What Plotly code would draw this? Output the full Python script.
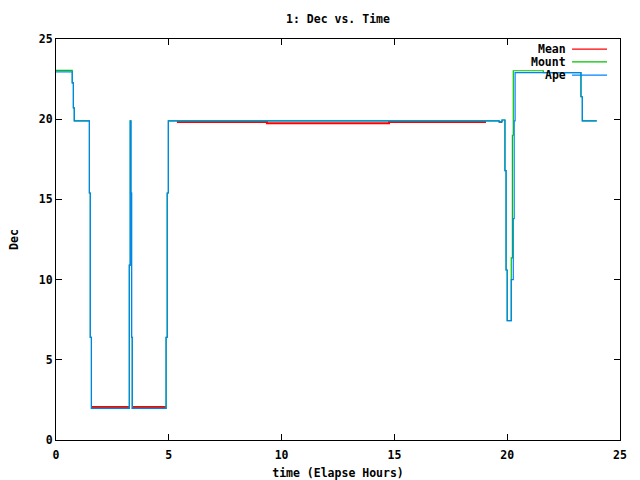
import plotly.graph_objects as go

# ---- data ----
ape_t = [0, 0.72, 0.77, 0.81, 1.48, 1.52, 1.57, 3.25, 3.29, 3.32, 3.35, 3.38,
         4.88, 4.93, 4.98, 19.64, 19.77, 19.90, 19.95, 20.00, 20.18, 20.27,
         20.31, 20.35, 23.27, 23.33, 23.97]
ape_y = [22.95, 22.26, 20.7, 19.89, 15.4, 6.4, 1.97, 10.9, 19.89, 15.4, 6.4, 1.97,
         6.4, 15.4, 19.89, 19.83, 19.95, 16.8, 10.6, 7.44, 10.0, 13.8,
         19.89, 22.9, 21.4, 19.89, 19.89]

mount_t = [0, 0.72, 0.77, 0.81, 1.48, 1.52, 1.57, 3.25, 3.29, 3.32, 3.35, 3.38,
           4.88, 4.93, 4.98, 19.64, 19.77, 19.90, 19.95, 20.00, 20.18, 20.23,
           20.27, 21.6, 23.27, 23.33, 23.97]
mount_y = [23.05, 22.26, 20.7, 19.89, 15.4, 6.4, 1.97, 10.9, 19.89, 15.4, 6.4, 1.97,
           6.4, 15.4, 19.89, 19.83, 19.95, 16.8, 10.6, 7.44, 11.35, 19.0,
           23.02, 22.9, 21.4, 19.89, 19.89]

mean_t = [1.58, 3.25, 3.25, 3.40, 4.88, 4.88, 5.36, 9.35, 14.76, 19.06, 19.06, 19.64, 19.77]
mean_y = [2.06, 2.06, None, 2.06, 2.06, None, 19.82, 19.74, 19.82, 19.82, None, 19.83, 19.83]

series_names = ["Mean", "Mount", "Ape"]
series_colors = ["#ff0000", "#00c000", "#0080ff"]

x_ticks = [0, 5, 10, 15, 20, 25]
y_ticks = [0, 5, 10, 15, 20, 25]

FONT = "DejaVu Sans Mono"

fig = go.Figure()
fig.add_trace(go.Scatter(x=mean_t, y=mean_y, mode="lines", name=series_names[0],
                         line=dict(color=series_colors[0], width=2, shape="hv"),
                         connectgaps=False))
fig.add_trace(go.Scatter(x=mount_t, y=mount_y, mode="lines", name=series_names[1],
                         line=dict(color=series_colors[1], width=1.2, shape="hv")))
fig.add_trace(go.Scatter(x=ape_t, y=ape_y, mode="lines", name=series_names[2],
                         line=dict(color=series_colors[2], width=1.2, shape="hv")))

# custom gnuplot-like legend (text right, sample line to the right)
leg_y = [0.975, 0.943, 0.910]
for name, col, ly in zip(series_names, series_colors, leg_y):
    fig.add_annotation(x=0.907, y=ly, xref="paper", yref="paper", text=name,
                       showarrow=False, xanchor="right", yanchor="middle",
                       font=dict(family=FONT, size=11.5, color="black", weight="bold"))
    fig.add_shape(type="line", xref="paper", yref="paper", x0=0.915, x1=0.977,
                  y0=ly, y1=ly, line=dict(color=col, width=1.2))

axis_common = dict(showline=True, linecolor="black", linewidth=1, mirror="ticks",
                   ticks="inside", ticklen=6, tickcolor="black", showgrid=False,
                   zeroline=False, automargin=False,
                   tickfont=dict(family=FONT, size=11.5, color="black", weight="bold"))

fig.update_layout(
    width=640, height=480,
    margin=dict(l=56, r=20, t=39, b=40),
    paper_bgcolor="white", plot_bgcolor="white",
    showlegend=False,
    title=dict(text="1: Dec vs. Time", x=(56 + 620) / 2 / 640, xanchor="center",
               y=1 - 19 / 480, yanchor="middle",
               font=dict(family=FONT, size=11.5, color="black", weight="bold")),
    xaxis=dict(range=[0, 25], tickvals=x_ticks, ticklabelstandoff=4,
               title=dict(text="time (Elapse Hours)", standoff=8,
                          font=dict(family=FONT, size=11.5, color="black", weight="bold")),
               **axis_common),
    yaxis=dict(range=[0, 25], tickvals=y_ticks,
               title=dict(text="Dec", standoff=17,
                          font=dict(family=FONT, size=11.5, color="black", weight="bold")),
               **axis_common),
)

fig.write_html("out.html")
